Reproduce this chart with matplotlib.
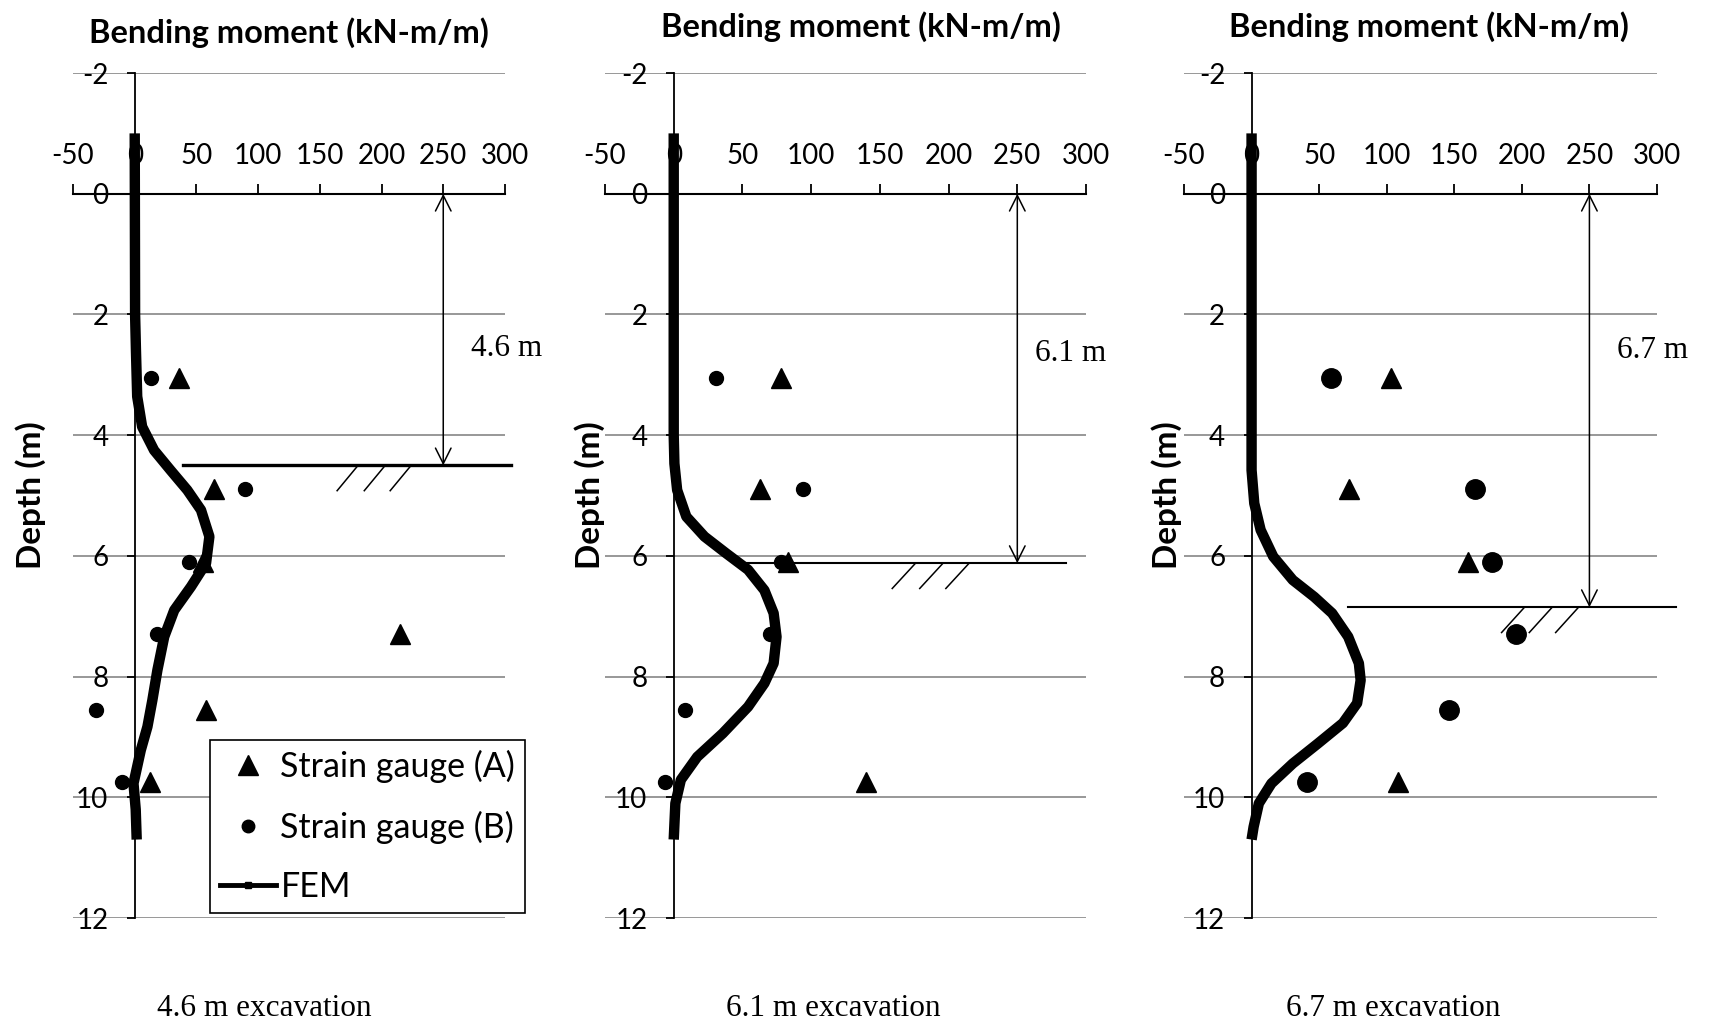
import matplotlib
matplotlib.use("Agg")
import matplotlib.pyplot as plt
from matplotlib.lines import Line2D

plt.rcParams["font.family"] = ["Lato", "DejaVu Sans"]
plt.rcParams["axes.unicode_minus"] = False

# depth of the strain gauges (m)
gauge_depth = [3.05, 4.9, 6.1, 7.3, 8.55, 9.75]

# 4.6 m excavation
p1_a_depth = [3.05, 4.9, 6.1, 7.3, 8.55, 9.75]
p1_a_moment = [36, 64, 55, 215, 58, 12]
p1_b_depth = gauge_depth
p1_b_moment = [13, 89, 44, 18, -31, -10]
p1_fem_depth = [-1.0, 2.0, 2.6, 3.36, 3.86, 4.25, 4.58, 4.91, 5.24, 5.68, 6.12,
                6.51, 6.90, 7.34, 7.89, 8.39, 8.83, 9.22, 9.77, 10.2, 10.7]
p1_fem_moment = [0, 0.3, 1, 2, 6, 15.7, 29, 42.6, 53.7, 60.5, 57.8,
                 45.6, 32, 23.9, 18.4, 14.3, 10.3, 4.9, -1, 0.8, 1.6]

# 6.1 m excavation
p2_a_depth = [3.05, 4.9, 6.1, 9.75]
p2_a_moment = [78, 63, 83, 140]
p2_b_depth = gauge_depth
p2_b_moment = [31, 94, 78, 70, 8, -6]
p2_fem_depth = [-1.0, 4.0, 4.47, 4.91, 5.35, 5.68, 5.96, 6.23, 6.57, 6.95,
                7.34, 7.78, 8.11, 8.50, 8.94, 9.33, 9.71, 10.1, 10.7]
p2_fem_moment = [0, 0, 0.5, 2.5, 9.2, 22.4, 38.3, 54.1, 66, 72.7,
                 74.8, 72.7, 66, 54.1, 35.7, 17.1, 5.2, 1.2, 0]

# 6.7 m excavation
p3_a_depth = [3.05, 4.9, 6.1, 9.75]
p3_a_moment = [103, 72, 160, 108]
p3_b_depth = gauge_depth
p3_b_moment = [59, 165, 178, 196, 146, 41]
p3_fem_depth = [-1.0, 4.58, 5.13, 5.57, 6.01, 6.40, 6.68, 6.95, 7.34, 7.78,
                8.06, 8.44, 8.77, 9.11, 9.44, 9.77, 10.1, 10.49, 10.7]
p3_fem_moment = [0, 0, 2, 6.7, 16, 30.5, 46.4, 59.6, 71.5, 79.4,
                 80.7, 78.1, 67.6, 49, 30.5, 14.7, 5.4, 1.5, 0]

exc_labels = ["4.6 m", "6.1 m", "6.7 m"]
exc_depth = [4.5, 6.12, 6.85]          # drawn ground level
ground_x = [(39, 305), (51.5, 285.5), (71, 314)]
hatch_x = [[164, 186, 207], [159, 179, 198], [185, 205.5, 225]]
captions = ["4.6 m excavation", "6.1 m excavation", "6.7 m excavation"]

panels = [
    (p1_a_depth, p1_a_moment, p1_b_depth, p1_b_moment, p1_fem_depth, p1_fem_moment),
    (p2_a_depth, p2_a_moment, p2_b_depth, p2_b_moment, p2_fem_depth, p2_fem_moment),
    (p3_a_depth, p3_a_moment, p3_b_depth, p3_b_moment, p3_fem_depth, p3_fem_moment),
]

# layout (figure fractions) and small per-panel tweaks
rects = [[0.0427, 0.1061, 0.2526, 0.8228],
         [0.3538, 0.1061, 0.2813, 0.8228],
         [0.6924, 0.1061, 0.2766, 0.8228]]
title_pos = [(0.5, 1.048), (0.532, 1.055), (0.518, 1.055)]
ylabel_x = [-0.098, -0.033, -0.036]
circle_ms = [10, 10, 14]
ground_lw = [2.4, 1.5, 1.5]
label_xy = [(301, 2.56), (289, 2.64), (297, 2.59)]
caption_x = [105, 116, 105]

serif = "Liberation Serif"

fig = plt.figure(figsize=(17.1, 10.27), dpi=100)

for i, (a_d, a_m, b_d, b_m, f_d, f_m) in enumerate(panels):
    ax = fig.add_axes(rects[i])
    ax.set_xlim(-50, 300)
    ax.set_ylim(12, -2)

    # axes cross at (0, 0) like the excel chart
    ax.spines["left"].set_position(("data", 0))
    ax.spines["top"].set_position(("data", 0))
    ax.spines["right"].set_visible(False)
    ax.spines["bottom"].set_visible(False)
    ax.spines["left"].set_linewidth(1.3)
    ax.spines["top"].set_linewidth(1.5)
    ax.xaxis.tick_top()
    ax.set_xticks(range(-50, 301, 50))
    ax.set_yticks(range(-2, 13, 2))
    ax.tick_params(axis="x", direction="out", length=7, width=1.3, pad=11, labelsize=20)
    ax.tick_params(axis="y", direction="out", length=6, width=1.3, pad=13, labelsize=20)
    ax.yaxis.grid(True, color="#868686", lw=1.2)
    ax.set_axisbelow(True)

    ax.plot(a_m, a_d, ls="none", marker="^", ms=15, color="k", zorder=3)
    ax.plot(b_m, b_d, ls="none", marker="o", ms=circle_ms[i], color="k", zorder=3)
    ax.plot(f_m, f_d, color="k", lw=7.5, solid_capstyle="butt",
            solid_joinstyle="round", zorder=4)

    # excavation level, arrow and hatching
    d = exc_depth[i]
    ax.plot(ground_x[i], [d, d], color="k", lw=ground_lw[i], clip_on=False, zorder=3)
    for xb in hatch_x[i]:
        ax.plot([xb, xb + 17], [d + 0.42, d], color="k", lw=1.1, zorder=3)
    ax.annotate("", xy=(250, 0), xytext=(250, d),
                arrowprops=dict(arrowstyle="<->", color="k", lw=1.1,
                                mutation_scale=28, shrinkA=0, shrinkB=0))
    ax.text(label_xy[i][0], label_xy[i][1], exc_labels[i], family=serif,
            size=22.5, ha="center", va="center")

    ax.text(caption_x[i], 13.5, captions[i], family=serif, size=22.5,
            ha="center", va="center", clip_on=False)
    ax.text(title_pos[i][0], title_pos[i][1], "Bending moment (kN-m/m)",
            transform=ax.transAxes, ha="center", va="center",
            fontweight="bold", size=23.5)
    ax.set_ylabel("Depth (m)", fontweight="bold", size=24, va="center")
    ax.yaxis.set_label_coords(ylabel_x[i], 0.5)

    if i == 0:
        handles = [
            Line2D([], [], ls="none", marker="^", ms=15, color="k"),
            Line2D([], [], ls="none", marker="o", ms=9, color="k"),
            Line2D([], [], color="k", lw=3.5, marker="s", ms=5),
        ]
        leg = ax.legend(handles, ["Strain gauge (A)", "Strain gauge (B)", "FEM"],
                        loc="lower left", bbox_to_anchor=(0.317, 0.006),
                        borderaxespad=0, fontsize=24.5, fancybox=False,
                        edgecolor="k", framealpha=1, handlelength=1.65,
                        handletextpad=0.12, labelspacing=0.8, borderpad=0.3)
        leg.get_frame().set_linewidth(1.2)
        leg.set_zorder(5)

fig.savefig("out.png", dpi=100, facecolor="white")
